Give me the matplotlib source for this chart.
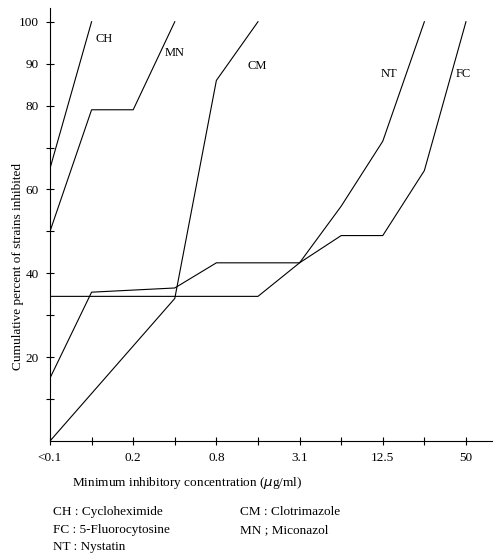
import matplotlib
matplotlib.use("Agg")
import matplotlib.pyplot as plt

# dilution steps on x (equal spacing), labels only on every other one
conc_labels = ["<0.1", "0.2", "0.8", "3.1", "12.5", "50"]
label_pos = [0, 2, 4, 6, 8, 10]

# cumulative percent of strains inhibited
ch_x = [0, 1]
ch_y = [65, 100]
mn_x = [0, 1, 2, 3]
mn_y = [50, 79, 79, 100]
cm_x = [0, 3, 4, 5]
cm_y = [0, 34, 86, 100]
nt_x = [0, 1, 2, 3, 4, 5, 6, 7, 8, 9]
nt_y = [15, 35.5, 36, 36.5, 42.5, 42.5, 42.5, 56, 71.5, 100]
fc_x = [0, 1, 2, 3, 4, 5, 6, 7, 8, 9, 10]
fc_y = [34.5, 34.5, 34.5, 34.5, 34.5, 34.5, 42.5, 49, 49, 64.5, 100]

plt.rcParams['font.family'] = ['Liberation Serif', 'DejaVu Serif']

fig = plt.figure(figsize=(4.93, 5.56), dpi=100)
ax = fig.add_axes([0.1014, 0.2068, 0.8986, 0.779])

for xs, ys in [(ch_x, ch_y), (mn_x, mn_y), (cm_x, cm_y), (nt_x, nt_y), (fc_x, fc_y)]:
    ax.plot(xs, ys, color='black', lw=0.8)

# curve names next to the tops of the lines
ax.text(1.1, 96, "CH", fontsize=9, va='center')
ax.text(2.75, 92.5, "MN", fontsize=9, va='center')
ax.text(4.75, 89.5, "CM", fontsize=9, va='center')
ax.text(7.95, 87.5, "NT", fontsize=9, va='center')
ax.text(9.75, 87.5, "FC", fontsize=9, va='center')

ax.set_xlim(0, 10.65)
ax.set_ylim(0, 103.3)
ax.set_xticks(range(11))
ax.set_xticklabels(["" if i not in label_pos else conc_labels[label_pos.index(i)] for i in range(11)])
ax.set_yticks([10, 20, 30, 40, 50, 60, 70, 80, 90, 100])
ax.set_yticklabels(["", "20", "", "40", "", "60", "", "80", "90", "100"])
ax.tick_params(direction='inout', length=6, width=0.8, labelsize=9.5, pad=5)
ax.spines['top'].set_visible(False)
ax.spines['right'].set_visible(False)

# axis titles placed where the scan has them
fig.text(0.38, 0.131, "Minimum inhibitory concentration ($\\mu$g/ml)", fontsize=9.5,
         ha='center', va='center')
fig.text(0.036, 0.52, "Cumulative percent of strains inhibited", fontsize=9.5,
         rotation=90, ha='center', va='center')

# abbreviation key under the chart
fig.text(0.108, 0.079, "CH : Cycloheximide", fontsize=9.5, va='center')
fig.text(0.108, 0.047, "FC : 5-Fluorocytosine", fontsize=9.5, va='center')
fig.text(0.108, 0.016, "NT : Nystatin", fontsize=9.5, va='center')
fig.text(0.487, 0.079, "CM : Clotrimazole", fontsize=9.5, va='center')
fig.text(0.487, 0.047, "MN ; Miconazol", fontsize=9.5, va='center')

fig.savefig("out.png", dpi=100)
